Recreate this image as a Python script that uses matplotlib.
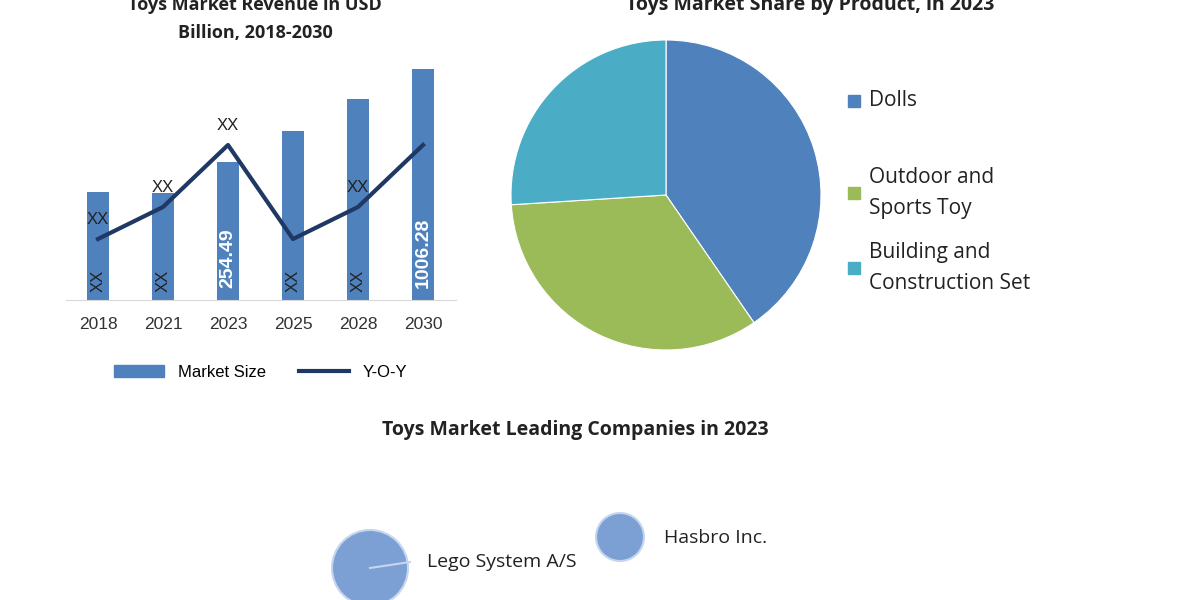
import matplotlib
matplotlib.use("Agg")
import matplotlib.pyplot as plt
from matplotlib.patches import Patch
from matplotlib.lines import Line2D

years = ["2018", "2021", "2023", "2025", "2028", "2030"]
market_size = [108, 107, 138, 169, 201, 231]
yoy = [61, 93, 155, 61, 93, 155]
bar_labels = ["XX", "XX", "254.49", "XX", "XX", "1006.28"]
yoy_labels = ["XX", "XX", "XX", "", "XX", ""]

products = ["Dolls", "Outdoor and\nSports Toy", "Building and\nConstruction Set"]
shares = [40.4, 33.6, 26.0]
pie_colors = ["#4f81bd", "#9bbb59", "#4bacc6"]

companies = ["Lego System A/S", "Hasbro Inc."]
company_size = [38, 24]

bar_c = "#4f81bd"
line_c = "#1f3864"
font = "Liberation Sans"
tfont = "Open Sans"

fig = plt.figure(figsize=(12, 6), dpi=100)

# Bar chart
ax = fig.add_axes([65.5/1200, 0.5, 390/1200, 250/600])
x = list(range(len(years)))
ax.bar(x, market_size, width=0.34, color=bar_c)
ax.plot(x, yoy, color=line_c, lw=3)
for i in x:
    lab = bar_labels[i]
    if lab == "XX":
        ax.text(i, 8, lab, rotation=90, ha="center", va="bottom", fontsize=12, family=font, color="#222")
    else:
        ax.text(i, 12, lab, rotation=90, ha="center", va="bottom", fontsize=14, family=font,
                color="white", fontweight="bold")
    if yoy_labels[i]:
        ax.text(i, yoy[i] + 12, yoy_labels[i], ha="center", va="bottom", fontsize=12, family=font, color="#222")
ax.set_xlim(-0.5, 5.5)
ax.set_ylim(0, 250)
ax.set_xticks(x, years, fontsize=12.5, family=font, color="#333")
ax.tick_params(length=0, pad=12)
ax.set_yticks([])
for s in ax.spines.values():
    s.set_visible(False)
ax.spines["bottom"].set_visible(True)
ax.spines["bottom"].set_color("#d9d9d9")
ax.legend(handles=[Patch(color=bar_c, label="Market Size"),
                   Line2D([0], [0], color=line_c, lw=3, label="Y-O-Y")],
          loc="upper center", bbox_to_anchor=(0.5, -0.2), ncol=2, frameon=False,
          prop={"family": font, "size": 12}, handlelength=3, columnspacing=2)

fig.text(255/1200, 1 - 5/600, "Toys Market Revenue in USD", ha="center", va="center",
         fontsize=13, fontweight="bold", family=tfont, color="#222")
fig.text(255/1200, 1 - 33/600, "Billion, 2018-2030", ha="center", va="center",
         fontsize=13, fontweight="bold", family=tfont, color="#222")

# Pie
pax = fig.add_axes([511/1200, 250/600, 310/1200, 310/600])
pax.pie(shares, colors=pie_colors, startangle=90, counterclock=False,
        wedgeprops={"edgecolor": "white", "linewidth": 0.8})
pax.set_xlim(-1, 1); pax.set_ylim(-1, 1)
fig.text(810/1200, 1 - 5/600, "Toys Market Share by Product, in 2023", ha="center", va="center",
         fontsize=14, fontweight="bold", family=tfont, color="#222")
ly = [101, 193, 268]
for name, c, y in zip(products, pie_colors, ly):
    fig.patches.append(plt.Rectangle((848/1200, 1 - (y + 6)/600), 12/1200, 12/600,
                                     transform=fig.transFigure, color=c))
    fig.text(869/1200, 1 - y/600, name, ha="left", va="center", fontsize=15,
             family=tfont, color="#222", linespacing=1.6)

# Companies bubbles
bax = fig.add_axes([0, 0, 1, 1], zorder=-1)
bax.set_xlim(0, 1200); bax.set_ylim(600, 0); bax.axis("off")
fig.text(575/1200, 1 - 430/600, "Toys Market Leading Companies in 2023", ha="center", va="center",
         fontsize=14, fontweight="bold", family=tfont, color="#222")
pos = [(370, 568), (620, 537)]
for (cx, cy), r in zip(pos, company_size):
    bax.add_patch(plt.Circle((cx, cy), r, color="#7da0d4", ec="#c5d5ee", lw=1.5))
bax.plot([370, 410], [568, 562], color="#c5d5ee", lw=1.5)
bax.text(427, 562, companies[0], ha="left", va="center", fontsize=14, family=tfont, color="#222")
bax.text(664, 538, companies[1], ha="left", va="center", fontsize=14, family=tfont, color="#222")

fig.savefig("out.png", dpi=100)
